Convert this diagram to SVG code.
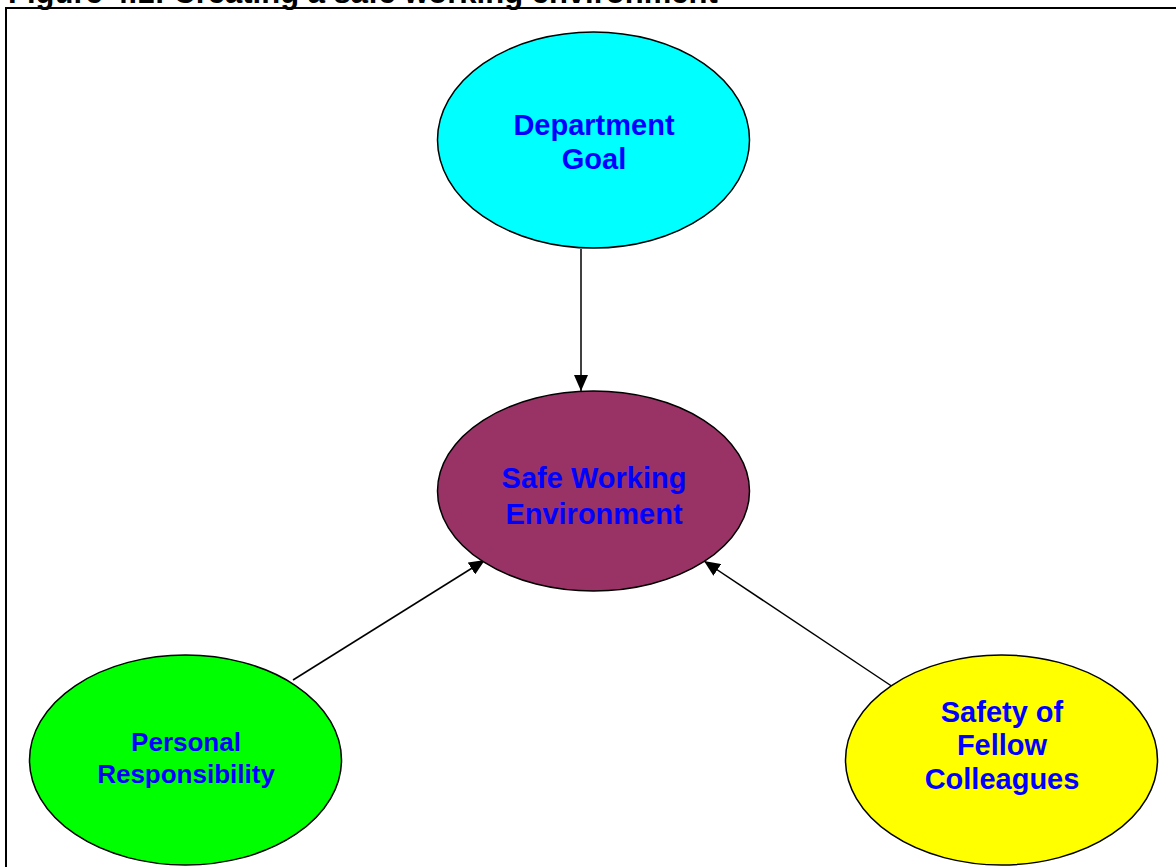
<svg xmlns="http://www.w3.org/2000/svg" width="1176" height="867" viewBox="0 0 1176 867">
<style>
.node{stroke:#000;stroke-width:1.5}
.lbl{font-family:"Liberation Sans",Arial,sans-serif;font-weight:bold;fill:#0000FF;text-anchor:middle}
.conn{stroke:#000;stroke-width:1.5;fill:none}
.title{font-family:"Liberation Sans",Arial,sans-serif;font-weight:bold;fill:#000}
</style>
<defs>
<marker id="arr" viewBox="0 0 16 14" refX="16" refY="7" markerWidth="16" markerHeight="14" markerUnits="userSpaceOnUse" orient="auto">
<path d="M0,0 L16,7 L0,14 Z" fill="#000"/>
</marker>
</defs>
<rect width="1176" height="867" fill="#fff"/>
<text class="title" x="8" y="3" font-size="31">Figure 4.1: Creating a safe working environment</text>
<rect x="6" y="8" width="1180" height="880" fill="none" stroke="#000" stroke-width="2"/>
<g id="connectors">
<line class="conn" x1="581" y1="249" x2="581" y2="391" marker-end="url(#arr)"/>
<line class="conn" x1="293" y1="680" x2="485" y2="560" marker-end="url(#arr)"/>
<line class="conn" x1="893" y1="687" x2="704" y2="561" marker-end="url(#arr)"/>
</g>
<g id="department-goal">
<ellipse class="node" cx="593.5" cy="140" rx="156" ry="108" fill="#00FFFF"/>
<text class="lbl" x="594" y="135" font-size="29">Department</text>
<text class="lbl" x="594" y="169" font-size="29">Goal</text>
</g>
<g id="safe-working-environment">
<ellipse class="node" cx="593.5" cy="491" rx="156" ry="100" fill="#993366"/>
<text class="lbl" x="594" y="488" font-size="29">Safe Working</text>
<text class="lbl" x="594" y="524" font-size="29">Environment</text>
</g>
<g id="personal-responsibility">
<ellipse class="node" cx="185.5" cy="760" rx="156" ry="105" fill="#00FF00"/>
<text class="lbl" x="186" y="751" font-size="26">Personal</text>
<text class="lbl" x="186" y="783" font-size="26">Responsibility</text>
</g>
<g id="safety-of-fellow-colleagues">
<ellipse class="node" cx="1001.5" cy="760" rx="156" ry="105" fill="#FFFF00"/>
<text class="lbl" x="1002" y="722" font-size="29">Safety of</text>
<text class="lbl" x="1002" y="755" font-size="29">Fellow</text>
<text class="lbl" x="1002" y="789" font-size="29">Colleagues</text>
</g>
</svg>
